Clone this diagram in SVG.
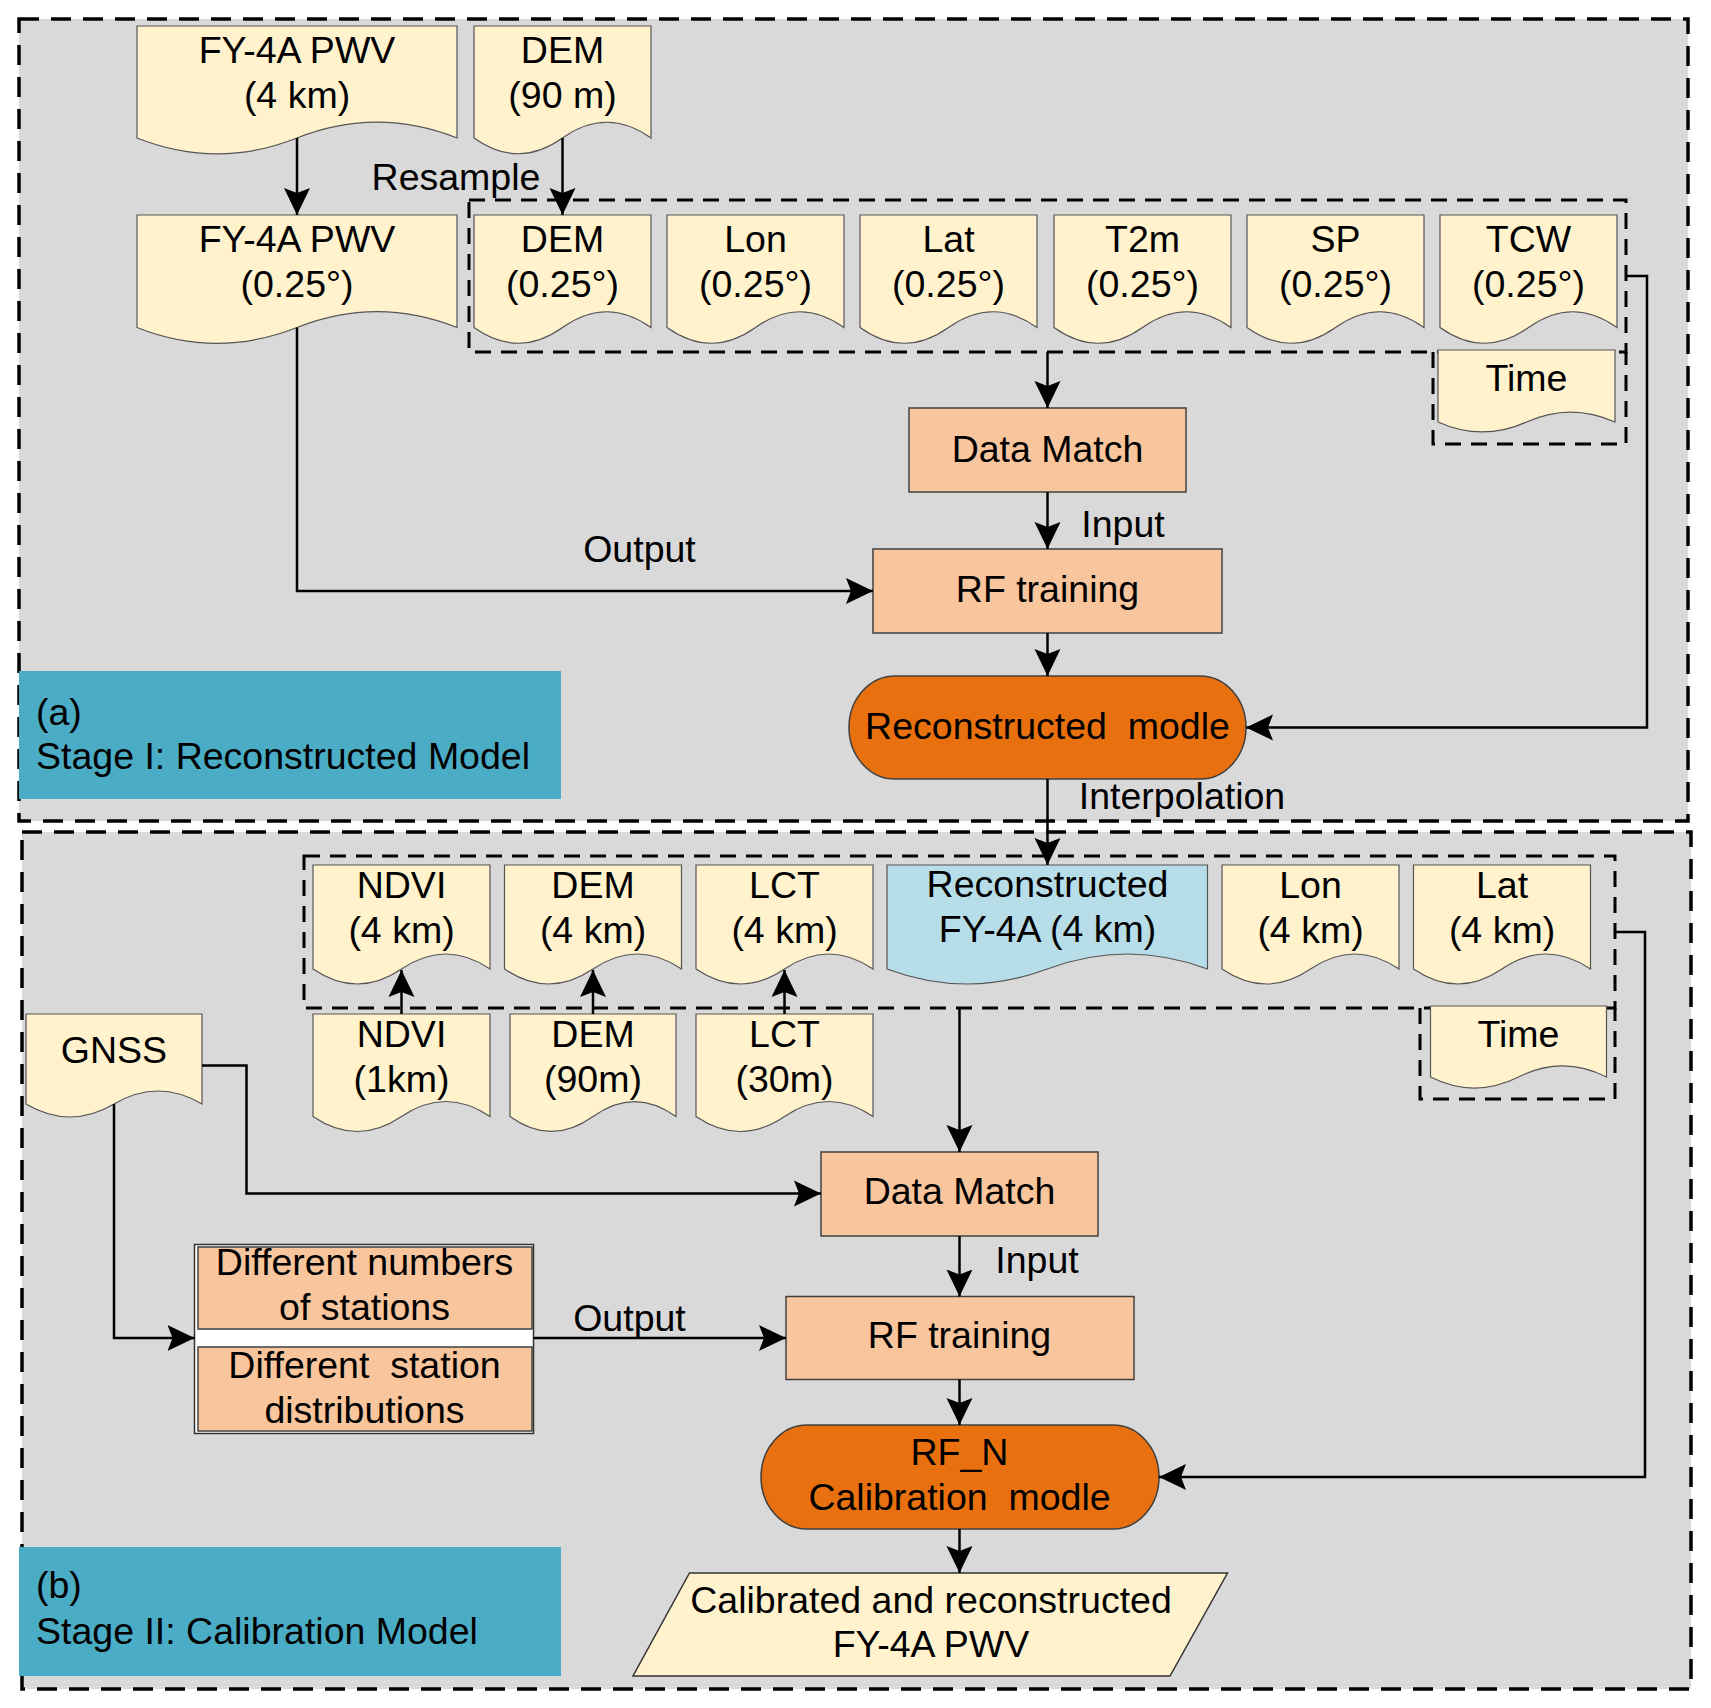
<svg xmlns="http://www.w3.org/2000/svg" width="1711" height="1708" viewBox="0 0 1711 1708">
<defs>
<style>
text{font-family:"Liberation Sans",Arial,sans-serif;font-size:37.5px;fill:#000;text-anchor:middle;white-space:pre}
.lbl{text-anchor:start}
.stage{fill:#d9d9d9;stroke:#000;stroke-width:3.5;stroke-dasharray:20 12}
.grp{fill:none;stroke:#000;stroke-width:3;stroke-dasharray:16 10}
.doc{fill:#fff2cc;stroke:#555;stroke-width:1.2}
.docb{fill:#b7dde8;stroke:#555;stroke-width:1.2}
.proc{fill:#f8c59c;stroke:#404040;stroke-width:1.5}
.term{fill:#e8700e;stroke:#404040;stroke-width:1.5}
.tag{fill:#4bacc6}
.con{fill:none;stroke:#000;stroke-width:2.5}
</style>
<marker id="ah" markerUnits="userSpaceOnUse" markerWidth="28" markerHeight="28" refX="27" refY="14" orient="auto" viewBox="0 0 28 28">
<path d="M0,1 L27,14 L0,27 L5,14 Z" fill="#000"/>
</marker>
</defs>
<rect width="1711" height="1708" fill="#fff"/>
<g id="stage-a">
<rect class="stage" x="19" y="19" width="1669" height="802"/>
<rect class="tag" x="19" y="671" width="542" height="128"/>
<text class="lbl" x="36" y="725">(a)</text>
<text class="lbl" x="36" y="769">Stage I: Reconstructed Model</text>
</g>
<g id="stage-b">
<rect class="stage" x="22" y="832" width="1669" height="857"/>
<rect class="tag" x="19" y="1547" width="542" height="129"/>
<text class="lbl" x="36" y="1598">(b)</text>
<text class="lbl" x="36" y="1644">Stage II: Calibration Model</text>
</g>
<g id="groups">
<rect class="grp" x="469" y="200" width="1157" height="152"/>
<path class="grp" d="M1433,352 V444 H1626 V352"/>
<rect class="grp" x="304" y="856" width="1311" height="152"/>
<path class="grp" d="M1420,1008 V1099 H1615 V1008"/>
</g>
<g id="fy4a-4km">
<path class="doc" d="M137,26 H457 V138 C404,117 350,117 297,138 C244,159 190,159 137,138 Z"/>
<text x="297" y="62.5">FY-4A PWV</text><text x="297" y="107.5">(4 km)</text>
</g>
<g id="dem-90m">
<path class="doc" d="M474,26 H651 V138 C621.5,117 592,117 562.5,138 C533,159 503.5,159 474,138 Z"/>
<text x="562.5" y="62.5">DEM</text><text x="562.5" y="107.5">(90 m)</text>
</g>
<g id="fy4a-025">
<path class="doc" d="M137,215 H457 V327.5 C404,306.5 350,306.5 297,327.5 C244,348.5 190,348.5 137,327.5 Z"/>
<text x="297" y="251.5">FY-4A PWV</text><text x="297" y="296.5">(0.25°)</text>
</g>
<g id="dem-025">
<path class="doc" d="M474,215 H651 V327.5 C621.5,306.5 592,306.5 562.5,327.5 C533,348.5 503.5,348.5 474,327.5 Z"/>
<text x="562.5" y="251.5">DEM</text><text x="562.5" y="296.5">(0.25°)</text>
</g>
<g id="lon-025">
<path class="doc" d="M667,215 H844 V327.5 C814.5,306.5 785,306.5 755.5,327.5 C726,348.5 696.5,348.5 667,327.5 Z"/>
<text x="755.5" y="251.5">Lon</text><text x="755.5" y="296.5">(0.25°)</text>
</g>
<g id="lat-025">
<path class="doc" d="M860,215 H1037 V327.5 C1007.5,306.5 978,306.5 948.5,327.5 C919,348.5 889.5,348.5 860,327.5 Z"/>
<text x="948.5" y="251.5">Lat</text><text x="948.5" y="296.5">(0.25°)</text>
</g>
<g id="t2m-025">
<path class="doc" d="M1054,215 H1231 V327.5 C1201.5,306.5 1172,306.5 1142.5,327.5 C1113,348.5 1083.5,348.5 1054,327.5 Z"/>
<text x="1142.5" y="251.5">T2m</text><text x="1142.5" y="296.5">(0.25°)</text>
</g>
<g id="sp-025">
<path class="doc" d="M1247,215 H1424 V327.5 C1394.5,306.5 1365,306.5 1335.5,327.5 C1306,348.5 1276.5,348.5 1247,327.5 Z"/>
<text x="1335.5" y="251.5">SP</text><text x="1335.5" y="296.5">(0.25°)</text>
</g>
<g id="tcw-025">
<path class="doc" d="M1440,215 H1617 V327.5 C1587.5,306.5 1558,306.5 1528.5,327.5 C1499,348.5 1469.5,348.5 1440,327.5 Z"/>
<text x="1528.5" y="251.5">TCW</text><text x="1528.5" y="296.5">(0.25°)</text>
</g>
<g id="time-a">
<path class="doc" d="M1438,350 H1615 V422 C1585.5,408.7 1556,408.7 1526.5,422 C1497,435.3 1467.5,435.3 1438,422 Z"/>
<text x="1526.5" y="391">Time</text>
</g>
<g id="datamatch-a">
<rect class="proc" x="909" y="408" width="277" height="84"/>
<text x="1047.5" y="462">Data Match</text>
</g>
<g id="rftrain-a">
<rect class="proc" x="873" y="549" width="349" height="84"/>
<text x="1047.5" y="602">RF training</text>
</g>
<g id="recon-model">
<rect class="term" x="849" y="676" width="397" height="103" rx="46" ry="51.5"/>
<text x="1047.5" y="739">Reconstructed  modle</text>
</g>
<g id="ndvi-4km">
<path class="doc" d="M313,865 H490 V969 C460.5,949 431,949 401.5,969 C372,989 342.5,989 313,969 Z"/>
<text x="401.5" y="897.5">NDVI</text><text x="401.5" y="942.5">(4 km)</text>
</g>
<g id="dem-4km">
<path class="doc" d="M504.5,865 H681.5 V969 C652,949 622.5,949 593,969 C563.5,989 534,989 504.5,969 Z"/>
<text x="593" y="897.5">DEM</text><text x="593" y="942.5">(4 km)</text>
</g>
<g id="lct-4km">
<path class="doc" d="M696,865 H873 V969 C843.5,949 814,949 784.5,969 C755,989 725.5,989 696,969 Z"/>
<text x="784.5" y="897.5">LCT</text><text x="784.5" y="942.5">(4 km)</text>
</g>
<g id="recon-fy4a">
<path class="docb" d="M887,865 H1207.5 V969 C1154,949 1100.6,949 1047.25,969 C993.8,989 940.4,989 887,969 Z"/>
<text x="1047.5" y="897">Reconstructed</text><text x="1047.5" y="942">FY-4A (4 km)</text>
</g>
<g id="lon-4km">
<path class="doc" d="M1222,865 H1399 V969 C1369.5,949 1340,949 1310.5,969 C1281,989 1251.5,989 1222,969 Z"/>
<text x="1310.5" y="897.5">Lon</text><text x="1310.5" y="942.5">(4 km)</text>
</g>
<g id="lat-4km">
<path class="doc" d="M1413.5,865 H1590.5 V969 C1561,949 1531.5,949 1502,969 C1472.5,989 1443,989 1413.5,969 Z"/>
<text x="1502" y="897.5">Lat</text><text x="1502" y="942.5">(4 km)</text>
</g>
<g id="time-b">
<path class="doc" d="M1430.5,1006 H1606.5 V1077 C1577.2,1062.3 1547.8,1062.3 1518.5,1077 C1489.2,1091.7 1459.8,1091.7 1430.5,1077 Z"/>
<text x="1518.5" y="1047">Time</text>
</g>
<g id="ndvi-1km">
<path class="doc" d="M313,1014 H490 V1116.5 C460.5,1096.5 431,1096.5 401.5,1116.5 C372,1136.5 342.5,1136.5 313,1116.5 Z"/>
<text x="401.5" y="1047">NDVI</text><text x="401.5" y="1092">(1km)</text>
</g>
<g id="dem-90m-b">
<path class="doc" d="M510,1014 H676 V1116.5 C648.3,1096.5 620.7,1096.5 593,1116.5 C565.3,1136.5 537.7,1136.5 510,1116.5 Z"/>
<text x="593" y="1047">DEM</text><text x="593" y="1092">(90m)</text>
</g>
<g id="lct-30m">
<path class="doc" d="M696,1014 H873 V1116.5 C843.5,1096.5 814,1096.5 784.5,1116.5 C755,1136.5 725.5,1136.5 696,1116.5 Z"/>
<text x="784.5" y="1047">LCT</text><text x="784.5" y="1092">(30m)</text>
</g>
<g id="gnss">
<path class="doc" d="M26,1014 H202 V1104 C172.7,1086.7 143.3,1086.7 114,1104 C84.7,1121.3 55.3,1121.3 26,1104 Z"/>
<text x="114" y="1063">GNSS</text>
</g>
<g id="datamatch-b">
<rect class="proc" x="821" y="1152" width="277" height="84"/>
<text x="959.5" y="1204">Data Match</text>
</g>
<g id="stations">
<rect x="194.5" y="1244.5" width="339" height="189" fill="#fff" stroke="#333" stroke-width="1.5"/>
<rect class="proc" x="198" y="1247" width="334" height="82"/>
<rect class="proc" x="198" y="1347" width="334" height="84"/>
<text x="364.5" y="1275">Different numbers</text>
<text x="364.5" y="1320">of stations</text>
<text x="364.5" y="1378">Different  station</text>
<text x="364.5" y="1423">distributions</text>
</g>
<g id="rftrain-b">
<rect class="proc" x="786" y="1296.5" width="348" height="83"/>
<text x="959.5" y="1348">RF training</text>
</g>
<g id="rfn-model">
<rect class="term" x="761" y="1425" width="398" height="104" rx="46" ry="52"/>
<text x="959.5" y="1465">RF_N</text>
<text x="959.5" y="1510">Calibration  modle</text>
</g>
<g id="output-pwv">
<path d="M689.5,1573 H1227.5 L1170,1676 H633 Z" fill="#fff2cc" stroke="#333" stroke-width="1.5"/>
<text x="931" y="1612.5">Calibrated and reconstructed</text>
<text x="931" y="1657">FY-4A PWV</text>
</g>
<g id="connectors">
<path class="con" d="M297,138 V215" marker-end="url(#ah)"/>
<path class="con" d="M562.5,138 V215" marker-end="url(#ah)"/>
<path class="con" d="M1047.5,352 V408" marker-end="url(#ah)"/>
<path class="con" d="M1047.5,492 V549" marker-end="url(#ah)"/>
<path class="con" d="M1047.5,633 V676" marker-end="url(#ah)"/>
<path class="con" d="M297,327.5 V591 H873" marker-end="url(#ah)"/>
<path class="con" d="M1626,276 H1647 V727.5 H1246" marker-end="url(#ah)"/>
<path class="con" d="M1047.5,779 V865" marker-end="url(#ah)"/>
<path class="con" d="M401.5,1014 V970" marker-end="url(#ah)"/>
<path class="con" d="M593,1014 V970" marker-end="url(#ah)"/>
<path class="con" d="M784.5,1014 V970" marker-end="url(#ah)"/>
<path class="con" d="M959.5,1008 V1152" marker-end="url(#ah)"/>
<path class="con" d="M202,1065.5 H246.5 V1193.5 H821" marker-end="url(#ah)"/>
<path class="con" d="M114,1104 V1338 H194.5" marker-end="url(#ah)"/>
<path class="con" d="M533.5,1338 H786" marker-end="url(#ah)"/>
<path class="con" d="M959.5,1236 V1296.5" marker-end="url(#ah)"/>
<path class="con" d="M959.5,1379.5 V1425" marker-end="url(#ah)"/>
<path class="con" d="M959.5,1529 V1573" marker-end="url(#ah)"/>
<path class="con" d="M1615,932 H1645 V1477 H1159" marker-end="url(#ah)"/>
<text x="456" y="189.5">Resample</text>
<text x="1123" y="537">Input</text>
<text x="639.5" y="561.5">Output</text>
<text x="1182" y="809">Interpolation</text>
<text x="1037" y="1273">Input</text>
<text x="629.5" y="1331">Output</text>
</g>
</svg>
